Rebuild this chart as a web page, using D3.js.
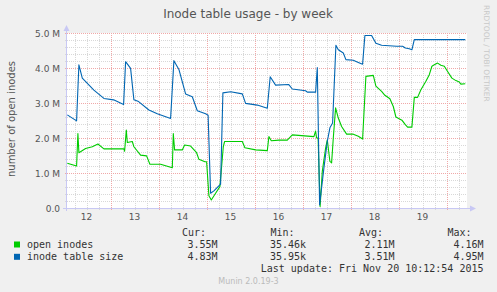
<!DOCTYPE html>
<html>
<head>
<meta charset="UTF-8">
<title>Inode table usage - by week</title>
<script src="https://d3js.org/d3.v7.min.js"></script>
<style>
  html, body { margin: 0; padding: 0; background: #f0f0f0; }
  svg { display: block; }
  .sans { font-family: 'DejaVu Sans', sans-serif; }
  .mono { font-family: 'DejaVu Sans Mono', monospace; }
</style>
</head>
<body>
<svg id="chart" width="497" height="292"></svg>
<script>
// --- data (hours since Nov 12 2015 00:00, value in millions) ---
const openInodes = [
  [2.35,1.28],[7,1.20],[7.65,2.13],[8.15,1.58],[11.5,1.70],[14.85,1.75],[17.65,1.83],[20.65,1.69],
  [30.65,1.69],[31,1.62],[31.85,2.23],[32.35,1.87],[34.85,1.90],[35.65,1.75],[39,1.51],[42,1.49],
  [43.65,1.25],[49,1.25],[54.85,1.15],[55.35,2.13],[56,1.66],[59.85,1.66],[61,1.80],[64,1.77],
  [67,1.58],[68.15,1.39],[71.15,1.32],[72,1.32],[73.15,0.35],[74.35,0.23],[76.5,0.42],[78.65,0.61],
  [80.35,1.75],[81,1.90],[89.85,1.90],[91.15,1.72],[96.5,1.66],[102.35,1.64],[103.15,2.04],[104.35,1.92],
  [108.15,1.94],[112.35,1.94],[114.85,2.09],[125.65,2.04],[126.5,2.20],[127,2.00],[127.75,2.00],
  [128.75,0.04],[129.85,1.05],[131.5,1.71],[132.35,1.95],[133.65,1.33],[134.5,1.29],[135.35,2.00],
  [136.5,2.86],[137.85,2.57],[139.5,2.33],[142,2.11],[145.35,2.11],[147.85,2.05],[150,1.97],
  [151.65,3.76],[155.35,3.79],[156.65,3.48],[159.5,3.33],[161.15,3.22],[163.65,3.12],[165.35,2.90],
  [166.65,2.60],[169.65,2.51],[171.35,2.38],[172.5,2.31],[174.65,2.31],[175.85,3.16],[177.5,3.16],
  [179.15,3.38],[181.65,3.62],[183.35,3.81],[184.65,4.05],[185.85,4.09],[187.5,4.14],[189.15,4.08],
  [190.85,4.05],[192.5,3.90],[194.65,3.71],[196.65,3.64],[198.35,3.60],[199.15,3.54],[201.35,3.55]
];
const tableSize = [
  [2.35,2.66],[7,2.49],[8.15,4.09],[9.85,3.71],[15.65,3.37],[20.65,3.13],[25.5,3.09],[30.5,2.96],
  [31.5,4.18],[34,3.99],[35.65,3.09],[38,3.04],[43.15,2.80],[47.35,2.69],[54,2.56],[55.65,4.21],
  [58.15,3.96],[61.5,3.26],[64.85,3.18],[67.35,2.78],[71.5,2.69],[72.75,2.65],[74,0.42],[75.65,0.49],
  [79,0.68],[80.15,3.29],[84,3.32],[89.85,3.26],[91.5,2.99],[97.35,2.94],[102.35,2.85],[103.8,3.75],
  [106.5,3.51],[113,3.53],[114.85,3.40],[121.5,3.35],[122.35,3.31],[126.5,3.31],[127.35,4.01],
  [128.5,0.09],[130.65,1.14],[132.35,1.90],[133.65,2.29],[135,2.43],[136.65,4.65],[137.85,4.52],
  [140.35,4.43],[141.65,4.24],[145.35,4.22],[147.85,4.16],[150,4.11],[151.15,4.93],[154.5,4.93],
  [156.65,4.71],[159.5,4.65],[167,4.62],[170,4.62],[171.35,4.57],[173.35,4.55],[174.65,4.52],
  [175.85,4.81],[201.35,4.81]
];
const yTicks = [0, 1, 2, 3, 4, 5];
const yTickLabels = ["0.0", "1.0 M", "2.0 M", "3.0 M", "4.0 M", "5.0 M"];
const dayLabels = ["12", "13", "14", "15", "16", "17", "18", "19"];

const seriesNames = ["open inodes", "inode table size"];
const seriesColors = ["#00cc00", "#0066b3"];
const statHeads = ["Cur:", "Min:", "Avg:", "Max:"];
const statValues = [
  ["3.55M", "35.46k", "2.11M", "4.16M"],
  ["4.83M", "35.95k", "3.51M", "4.95M"]
];

// --- layout ---
const svg = d3.select("#chart");
const plotL = 67, plotR = 467, plotT = 33, plotB = 208;
const t0 = new Date(2015, 10, 12, 0, 0);
const hourDate = h => new Date(t0.getTime() + h * 3600e3);

const x = d3.scaleTime()
  .domain([new Date(2015, 10, 12, 2, 12), new Date(2015, 10, 20, 10, 12)])
  .range([plotL, plotR]);
const y = d3.scaleLinear().domain([0, 5]).range([plotB, plotT]);

// canvas
svg.append("rect").attr("x", plotL).attr("y", plotT)
  .attr("width", plotR - plotL).attr("height", plotB - plotT).attr("fill", "#fff");

const crisp = v => Math.round(v) + 0.5;

// minor grid
const grid = svg.append("g").attr("stroke-width", 1).attr("fill", "none");
d3.range(0, 5.01, 0.2).forEach(v => {
  if (Math.abs(v - Math.round(v)) < 1e-6) return;
  grid.append("line").attr("x1", plotL - 2).attr("x2", plotR)
    .attr("y1", crisp(y(v))).attr("y2", crisp(y(v)))
    .attr("stroke", "#d8d8d8").attr("stroke-dasharray", "1,1");
});
const sixHours = d3.timeHour.every(6).range(x.domain()[0], x.domain()[1]);
sixHours.forEach(d => {
  if (d.getHours() === 0) return;
  grid.append("line").attr("x1", crisp(x(d))).attr("x2", crisp(x(d)))
    .attr("y1", plotT).attr("y2", plotB + 2)
    .attr("stroke", "#d8d8d8").attr("stroke-dasharray", "1,1");
});
// major grid
yTicks.forEach(v => {
  if (v === 0) return;
  grid.append("line").attr("x1", plotL - 2).attr("x2", plotR)
    .attr("y1", crisp(y(v))).attr("y2", crisp(y(v)))
    .attr("stroke", "#f0a8a8").attr("stroke-dasharray", "1,1");
});
const days = d3.timeDay.range(x.domain()[0], x.domain()[1]);
days.forEach(d => {
  grid.append("line").attr("x1", crisp(x(d))).attr("x2", crisp(x(d)))
    .attr("y1", plotT).attr("y2", plotB + 3)
    .attr("stroke", "#f0a8a8").attr("stroke-dasharray", "1,1");
});

// axes lines with arrows
const axisCol = "#c8c8f4";
svg.append("line").attr("x1", plotL - 4).attr("x2", plotR + 4)
  .attr("y1", crisp(plotB)).attr("y2", crisp(plotB)).attr("stroke", axisCol);
svg.append("path").attr("d", `M${plotR + 9},${crisp(plotB)} L${plotR + 3},${crisp(plotB) - 3} L${plotR + 3},${crisp(plotB) + 3}Z`)
  .attr("fill", axisCol);
svg.append("line").attr("x1", crisp(plotL) - 1).attr("x2", crisp(plotL) - 1)
  .attr("y1", plotB + 3).attr("y2", plotT - 3).attr("stroke", axisCol);
svg.append("path").attr("d", `M${crisp(plotL) - 1},${plotT - 8} L${crisp(plotL) - 4},${plotT - 2} L${crisp(plotL) + 2},${plotT - 2}Z`)
  .attr("fill", axisCol);

// tick labels
svg.append("g").selectAll("text").data(yTicks).join("text")
  .attr("class", "sans").attr("x", 60).attr("y", d => y(d) + 3.5)
  .attr("text-anchor", "end").attr("font-size", 9).attr("fill", "#555")
  .text((d, i) => yTickLabels[i]);

svg.append("g").selectAll("text").data(dayLabels).join("text")
  .attr("class", "sans")
  .attr("x", (d, i) => x(d3.timeHour.offset(new Date(2015, 10, 12 + i, 0), 12)))
  .attr("y", 220).attr("text-anchor", "middle").attr("font-size", 9).attr("fill", "#555")
  .text(d => d);

// series
const line = d3.line().x(d => x(hourDate(d[0]))).y(d => y(d[1]));
[openInodes, tableSize].forEach((s, i) => {
  svg.append("path").datum(s).attr("d", line)
    .attr("fill", "none").attr("stroke", seriesColors[i]).attr("stroke-width", 1.1)
    .attr("stroke-linejoin", "round");
});

// title and labels
svg.append("text").attr("class", "sans").attr("x", 248).attr("y", 17.5)
  .attr("text-anchor", "middle").attr("font-size", 12).attr("fill", "#555")
  .text("Inode table usage - by week");
svg.append("text").attr("class", "sans")
  .attr("transform", "translate(14.5,119) rotate(-90)")
  .attr("text-anchor", "middle").attr("font-size", 10).attr("fill", "#555")
  .text("number of open inodes");
svg.append("text").attr("class", "sans")
  .attr("transform", "translate(484,5) rotate(90)")
  .attr("font-size", 7.5).attr("fill", "#c8c8c8")
  .text("RRDTOOL / TOBI OETIKER");

// legend
const legend = svg.append("g").attr("class", "mono").attr("font-size", 10).attr("fill", "#333");
const colHead = [182, 270.5, 359, 447.5];
const colEnd = [217.5, 306, 394.5, 483.5];
statHeads.forEach((h, i) => {
  legend.append("text").attr("x", colHead[i]).attr("y", 235.5).text(h);
});
seriesNames.forEach((name, r) => {
  const by = 247.5 + r * 12.3;
  legend.append("rect").attr("x", 14).attr("y", by - 6).attr("width", 6).attr("height", 6)
    .attr("fill", seriesColors[r]);
  legend.append("text").attr("x", 27).attr("y", by).text(name);
  statValues[r].forEach((v, i) => {
    legend.append("text").attr("x", colEnd[i]).attr("y", by).attr("text-anchor", "end").text(v);
  });
});
legend.append("text").attr("x", 483.5).attr("y", 272.3).attr("text-anchor", "end")
  .text("Last update: Fri Nov 20 10:12:54 2015");
svg.append("text").attr("class", "sans").attr("x", 248.5).attr("y", 283.5)
  .attr("text-anchor", "middle").attr("font-size", 8).attr("fill", "#bbb")
  .text("Munin 2.0.19-3");
</script>
</body>
</html>
